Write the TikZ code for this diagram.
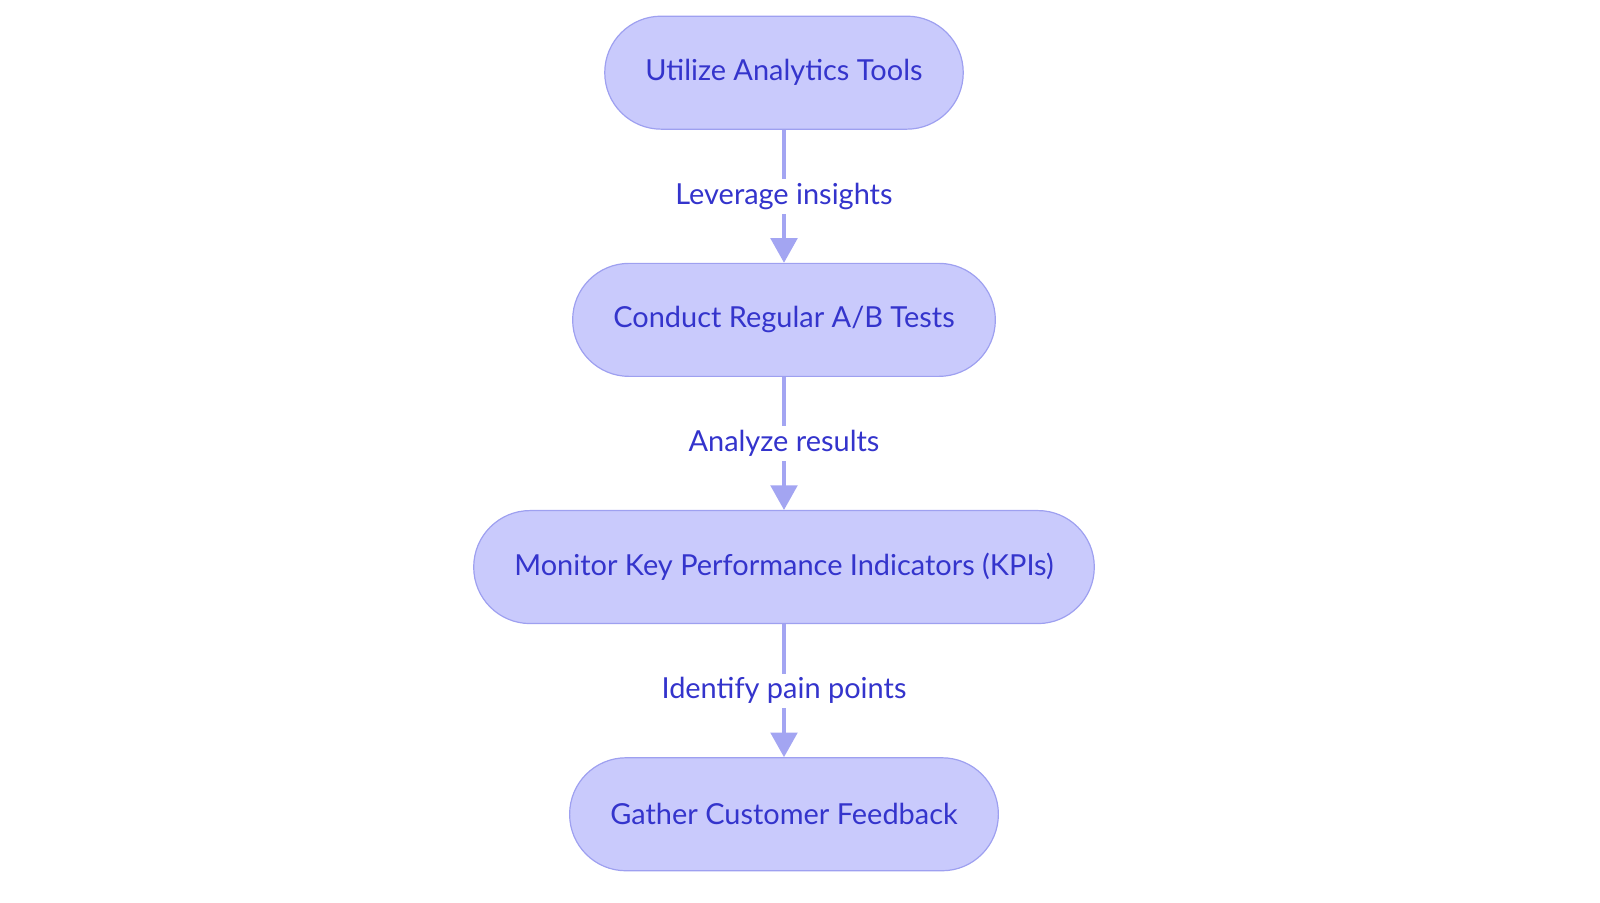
\documentclass[tikz,border=0pt]{standalone}
\usepackage{fontspec}
\setmainfont{Lato}
\usetikzlibrary{positioning,arrows.meta}
\definecolor{stepfill}{HTML}{C9CAFC}
\definecolor{stepline}{HTML}{9EA0F0}
\definecolor{steptext}{HTML}{3434CC}
\definecolor{flowline}{HTML}{A3A5F2}
\tikzset{
  stepbox/.style={draw=stepline, line width=0.9pt, fill=stepfill, text=steptext,
    rounded corners=42.3pt, minimum height=84.75pt, inner xsep=30.5pt,
    font=\fontsize{21.7}{26}\selectfont},
  flow/.style={draw=flowline, line width=2.6pt,
    -{Triangle[length=18.5pt,width=20pt]}},
  flowlabel/.style={fill=white, text=steptext, inner sep=3pt,
    font=\fontsize{21.7}{26}\selectfont}
}
\begin{document}
\begin{tikzpicture}[node distance=99.75pt]
\useasboundingbox (0,0) rectangle (1200pt,-677.25pt);

% the four steps, top to bottom
\node[stepbox] (analytics) at (588pt,-54.5pt) {Utilize Analytics Tools};
\node[stepbox, below=of analytics] (abtests) {Conduct Regular A/B Tests};
\node[stepbox, below=of abtests] (kpis) {Monitor Key Performance Indicators (KPIs)};
\node[stepbox, below=of kpis] (feedback) {Gather Customer Feedback};

% connectors with their labels
\draw[flow] (analytics) -- node[flowlabel] (insights) {Leverage insights} (abtests);
\draw[flow] (abtests) -- node[flowlabel] (results) {Analyze results} (kpis);
\draw[flow] (kpis) -- node[flowlabel] (painpoints) {Identify pain points} (feedback);
\end{tikzpicture}
\end{document}
